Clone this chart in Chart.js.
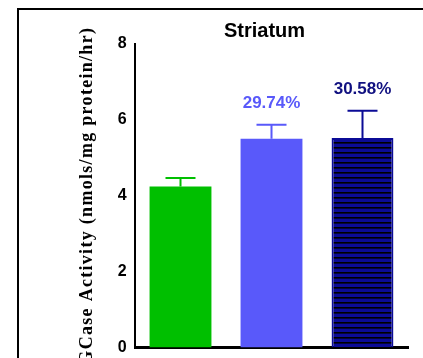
<!DOCTYPE html>
<html>
<head>
<meta charset="utf-8">
<script src="https://cdn.jsdelivr.net/npm/chart.js@4"></script>
<style>
  html, body { margin: 0; padding: 0; background: #fff; }
  #wrap { width: 423px; height: 358px; position: relative; }
</style>
</head>
<body>
<div id="wrap"><canvas id="c"></canvas></div>
<script>
const groups = ['Control', 'Treatment A', 'Treatment B'];
const means = [4.24, 5.50, 5.52];
const sems = [0.23, 0.37, 0.72];
const pctLabels = ['', '29.74%', '30.58%'];
const yTicks = [0, 2, 4, 6, 8];

const barColors = ['#00bf00', '#5959fa', '#0b0b96'];
const pctColors = ['#000', '#5959fa', '#101080'];

// striped fill for the third bar
function stripes() {
  const p = document.createElement('canvas');
  p.width = 8; p.height = 5;
  const g = p.getContext('2d');
  g.fillStyle = '#0b0b96';
  g.fillRect(0, 0, 8, 5);
  g.fillStyle = '#000';
  g.fillRect(0, 2, 8, 1.6);
  return g.createPattern(p, 'repeat');
}

const frame = {
  id: 'frame',
  beforeDraw(chart) {
    const ctx = chart.ctx;
    ctx.save();
    ctx.strokeStyle = '#000';
    ctx.lineWidth = 2;
    ctx.beginPath();
    ctx.moveTo(18, 400);
    ctx.lineTo(18, 9);
    ctx.lineTo(430, 9);
    ctx.stroke();
    ctx.restore();
    // spaced-out lettering for the axis title (scales draw before datasets)
    ctx.letterSpacing = '1.3px';
  },
  beforeDatasetsDraw(chart) {
    chart.ctx.letterSpacing = '0px';
  }
};

const errorBars = {
  id: 'errorBars',
  afterDatasetsDraw(chart) {
    const ctx = chart.ctx;
    const y = chart.scales.y;
    const meta = chart.getDatasetMeta(0);
    const area = chart.chartArea;
    ctx.save();
    meta.data.forEach((bar, i) => {
      const top = y.getPixelForValue(means[i] + sems[i]);
      const base = y.getPixelForValue(means[i]);
      ctx.strokeStyle = barColors[i];
      ctx.lineWidth = 2;
      ctx.beginPath();
      ctx.moveTo(bar.x, base);
      ctx.lineTo(bar.x, top);
      ctx.moveTo(bar.x - 15, top);
      ctx.lineTo(bar.x + 15, top);
      ctx.stroke();
      if (pctLabels[i]) {
        ctx.fillStyle = pctColors[i];
        ctx.font = 'bold 17px "Liberation Sans", Arial, sans-serif';
        ctx.textAlign = 'center';
        ctx.textBaseline = 'middle';
        ctx.fillText(pctLabels[i], bar.x, top - 21);
      }
    });
    ctx.fillStyle = '#000';
    ctx.font = 'bold 20px "Liberation Sans", Arial, sans-serif';
    ctx.textAlign = 'center';
    ctx.textBaseline = 'middle';
    ctx.fillText('Striatum', (area.left + area.right) / 2 - 7, 31);
    ctx.restore();
  }
};

new Chart(document.getElementById('c'), {
  type: 'bar',
  data: {
    labels: groups,
    datasets: [{
      data: means,
      backgroundColor: [barColors[0], barColors[1], stripes()],
      borderColor: barColors,
      borderWidth: [0, 0, 2],
      categoryPercentage: 0.68,
      barPercentage: 1
    }]
  },
  options: {
    responsive: true,
    maintainAspectRatio: false,
    animation: false,
    layout: { padding: { left: 73, top: 44, right: 15, bottom: 3 } },
    plugins: { legend: { display: false }, tooltip: { enabled: false } },
    scales: {
      x: {
        ticks: { display: false },
        grid: { display: false, drawTicks: false },
        border: { color: '#000', width: 3 }
      },
      y: {
        min: 0, max: 8,
        afterBuildTicks: s => { s.ticks = yTicks.map(v => ({ value: v })); },
        afterFit: s => { s.width = 62; },
        ticks: {
          color: '#000',
          padding: 1,
          font: { family: '"Liberation Sans", Arial, sans-serif', size: 16, weight: 'bold' }
        },
        grid: { display: false, drawTicks: true, tickLength: 6, tickColor: '#000', tickWidth: 2 },
        border: { color: '#000', width: 2 },
        title: {
          display: true,
          text: 'GCase Activity (nmols/mg protein/hr)',
          color: '#000',
          padding: { top: 4, bottom: 0 },
          font: { family: '"Liberation Serif", "Times New Roman", serif', size: 18, weight: 'bold' }
        }
      }
    }
  },
  plugins: [frame, errorBars]
});
</script>
</body>
</html>
